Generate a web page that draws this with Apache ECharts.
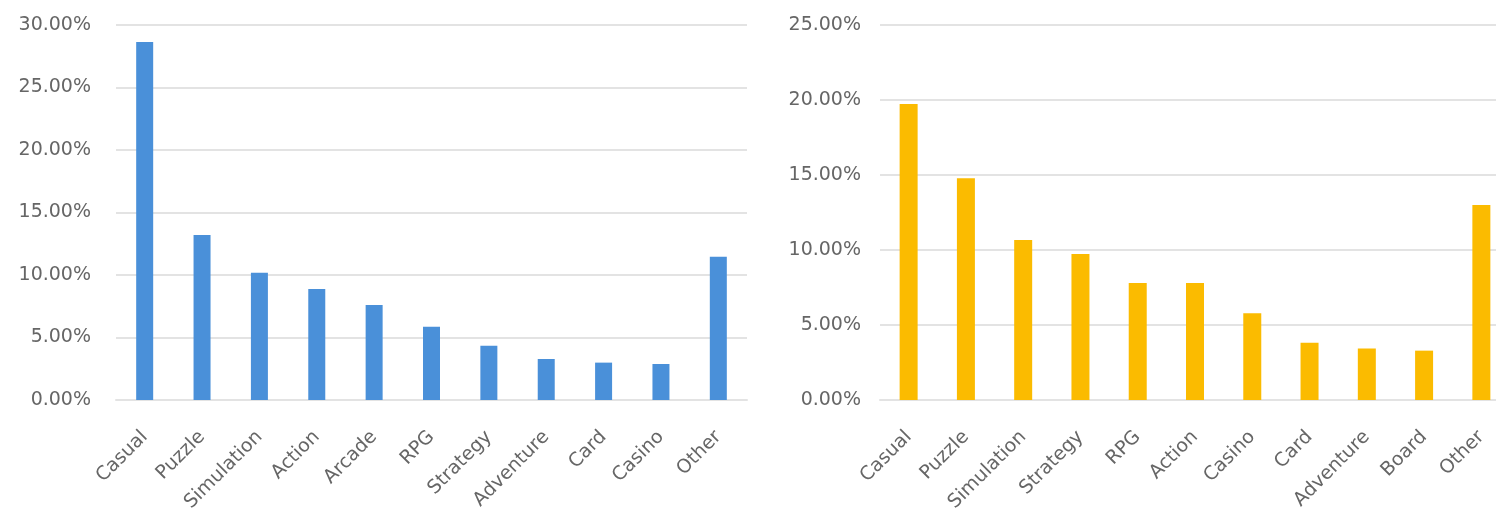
<!DOCTYPE html>
<html>
<head>
<meta charset="utf-8">
<script src="https://cdn.jsdelivr.net/npm/echarts@6/dist/echarts.min.js"></script>
<style>
  html, body { margin: 0; padding: 0; background: #ffffff; }
  #chart { width: 1496px; height: 515px; }
</style>
</head>
<body>
<div id="chart"></div>
<script>
// Genre share, first panel (percent)
const leftCategories = ['Casual', 'Puzzle', 'Simulation', 'Action', 'Arcade', 'RPG', 'Strategy', 'Adventure', 'Card', 'Casino', 'Other'];
const leftValues = [28.64, 13.2, 10.19, 8.88, 7.6, 5.87, 4.35, 3.28, 2.99, 2.88, 11.47];
const leftAxisMax = 30;

// Genre share, second panel (percent)
const rightCategories = ['Casual', 'Puzzle', 'Simulation', 'Strategy', 'RPG', 'Action', 'Casino', 'Card', 'Adventure', 'Board', 'Other'];
const rightValues = [19.73, 14.78, 10.67, 9.73, 7.8, 7.8, 5.78, 3.82, 3.44, 3.29, 13.0];
const rightAxisMax = 25;

const tickStep = 5;

const labelFont = {
  fontFamily: 'DejaVu Sans',
  fontSize: 19,
  color: '#666666'
};

function valueAxis(gridIndex, max, margin) {
  return {
    type: 'value',
    gridIndex: gridIndex,
    min: 0,
    max: max,
    interval: tickStep,
    axisLine: { show: false },
    axisTick: { show: false },
    splitLine: { lineStyle: { color: '#e3e3e3', width: 2 } },
    axisLabel: Object.assign({
      margin: margin,
      formatter: v => v.toFixed(2) + '%'
    }, labelFont)
  };
}

function categoryAxis(gridIndex, cats) {
  return {
    type: 'category',
    gridIndex: gridIndex,
    data: cats,
    axisLine: { lineStyle: { color: '#e3e3e3', width: 2 } },
    axisTick: { show: false },
    axisLabel: Object.assign({
      rotate: 45,
      interval: 0,
      margin: 34
    }, labelFont)
  };
}

const chart = echarts.init(document.getElementById('chart'), null, { renderer: 'canvas' });
chart.setOption({
  animation: false,
  backgroundColor: '#ffffff',
  grid: [
    { left: 116, top: 25, width: 631, height: 375, outerBoundsMode: 'none', containLabel: false },
    { left: 880, top: 25, width: 630, height: 375, outerBoundsMode: 'none', containLabel: false }
  ],
  xAxis: [
    categoryAxis(0, leftCategories),
    categoryAxis(1, rightCategories)
  ],
  yAxis: [
    valueAxis(0, leftAxisMax, 25),
    valueAxis(1, rightAxisMax, 19)
  ],
  series: [
    {
      type: 'bar',
      xAxisIndex: 0,
      yAxisIndex: 0,
      data: leftValues,
      barWidth: 17,
      itemStyle: { color: '#4a90d9' }
    },
    {
      type: 'bar',
      xAxisIndex: 1,
      yAxisIndex: 1,
      data: rightValues,
      barWidth: 18,
      itemStyle: { color: '#fbbb00' }
    }
  ]
});
</script>
</body>
</html>
